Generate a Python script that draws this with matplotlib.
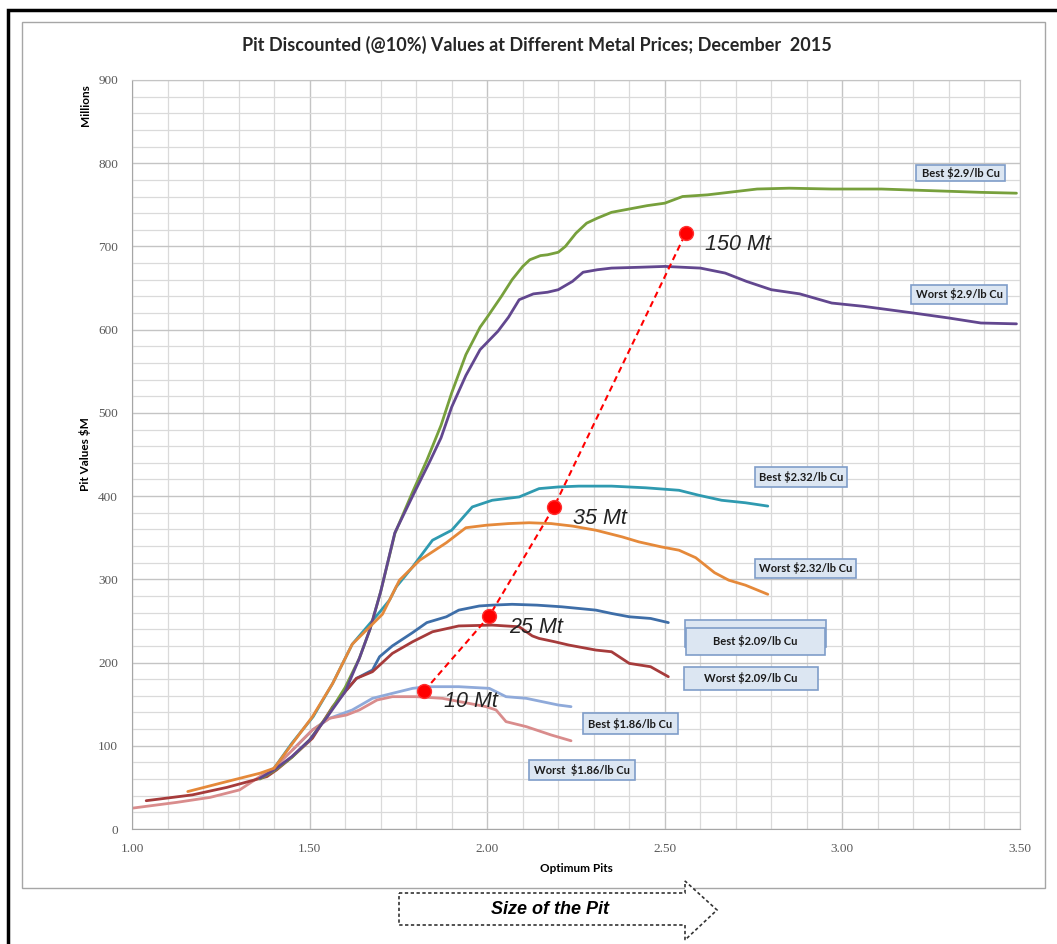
import matplotlib
matplotlib.use("Agg")
import matplotlib.pyplot as plt
from matplotlib.patches import Rectangle, Polygon
from matplotlib.ticker import MultipleLocator

# --- data (x = optimum pit, y = pit value $M) ---
best_290_x = [1.36, 1.40, 1.45, 1.50, 1.55, 1.60, 1.64, 1.67, 1.70, 1.74, 1.79, 1.83, 1.87,
              1.90, 1.94, 1.98, 2.00, 2.04, 2.07, 2.10, 2.12, 2.15, 2.17, 2.20, 2.22, 2.25, 2.28, 2.31,
              2.35, 2.40, 2.45, 2.50, 2.55, 2.62, 2.70, 2.76, 2.85, 2.97, 3.11, 3.25, 3.39, 3.49]
best_290_y = [60, 70, 86, 107, 136, 170, 205, 240, 285, 355, 405, 443, 485,
              524, 570, 603, 615, 640, 660, 676, 684, 689, 690, 693, 700, 716, 728, 734,
              741, 745, 749, 752, 760, 762, 766, 769, 770, 769, 769, 767, 765, 764]

worst_290_x = [1.36, 1.40, 1.45, 1.50, 1.55, 1.60, 1.64, 1.67, 1.70, 1.74, 1.79, 1.84,
               1.87, 1.90, 1.94, 1.98, 2.03, 2.06, 2.09, 2.13, 2.17, 2.20, 2.24, 2.27, 2.31, 2.35, 2.43,
               2.50, 2.60, 2.67, 2.73, 2.80, 2.88, 2.97, 3.06, 3.20, 3.30, 3.39, 3.49]
worst_290_y = [61, 71, 87, 107, 135, 165, 205, 240, 285, 356, 400, 443,
               470, 507, 545, 576, 598, 615, 636, 643, 645, 648, 658, 669, 672, 674, 675,
               676, 674, 668, 658, 648, 643, 632, 628, 620, 614, 608, 607]

best_232_x = [1.40, 1.45, 1.51, 1.565, 1.62, 1.66, 1.70, 1.725, 1.744, 1.79, 1.846,
              1.90, 1.958, 2.014, 2.09, 2.146, 2.20, 2.258, 2.35, 2.446, 2.54, 2.596, 2.66, 2.727, 2.79]
best_232_y = [73, 103, 135, 175, 222, 242, 262, 275, 291, 315, 347,
              359, 387, 395, 399, 409, 411, 412, 412, 410, 407, 401, 395, 392, 388]

worst_232_x = [1.157, 1.267, 1.36, 1.40, 1.452, 1.508, 1.565, 1.62, 1.66, 1.705, 1.753, 1.81, 1.885,
               1.94, 1.997, 2.06, 2.118, 2.18, 2.24, 2.306, 2.38, 2.427, 2.49, 2.54, 2.587, 2.64,
               2.68, 2.727, 2.79]
worst_232_y = [45, 57, 67, 73, 103, 135, 175, 222, 239, 258, 299, 323, 344,
               362, 365, 367, 368, 367, 364, 359, 351, 345, 339, 335, 326, 308,
               299, 293, 282]

best_209_x = [1.604, 1.632, 1.677, 1.697, 1.733,
              1.79, 1.83, 1.885, 1.92, 1.978, 2.014, 2.07, 2.14, 2.21, 2.306, 2.35, 2.40, 2.46, 2.51]
best_209_y = [167, 181, 191, 207, 220,
              236, 248, 255, 263, 268, 269, 270, 269, 267, 263, 259, 255, 253, 248]

worst_209_x = [1.04, 1.17, 1.267, 1.38, 1.407, 1.452, 1.508, 1.565, 1.604, 1.632, 1.677, 1.733, 1.79,
               1.846, 1.92, 2.014, 2.09, 2.127, 2.146, 2.19, 2.23, 2.306, 2.35, 2.40, 2.46, 2.51]
worst_209_y = [34, 41, 50, 63, 71, 87, 109, 147, 167, 181, 189, 211, 225,
               237, 244, 245, 243, 232, 229, 225, 221, 215, 213, 199, 195, 183]

best_186_x = [1.452, 1.508, 1.556, 1.62, 1.677, 1.733, 1.79,
              1.83, 1.92, 2.006, 2.053, 2.11, 2.20, 2.236]
best_186_y = [95, 119, 133, 143, 157, 163, 169,
              171, 171, 169, 159, 157, 149, 147]

worst_186_x = [1.00, 1.126, 1.22, 1.303, 1.36, 1.40, 1.452, 1.508, 1.556, 1.604, 1.64, 1.69, 1.733,
               1.80, 1.874, 1.997, 2.025, 2.053, 2.11, 2.18, 2.236]
worst_186_y = [25, 32, 38, 47, 63, 73, 95, 119, 133, 137, 143, 155, 159,
               159, 157, 147, 143, 129, 123, 113, 106]

size_x = [1.823, 2.006, 2.188, 2.559]
size_y = [166, 256, 387, 716]
size_labels = ["10 Mt", "25 Mt", "35 Mt", "150 Mt"]

series = [
    (best_186_x, best_186_y, "#8FAADA"),
    (worst_186_x, worst_186_y, "#D98C8C"),
    (best_209_x, best_209_y, "#3E6EA8"),
    (worst_209_x, worst_209_y, "#A63B3B"),
    (best_232_x, best_232_y, "#2F9AB0"),
    (best_290_x, best_290_y, "#77A03C"),
    (worst_290_x, worst_290_y, "#62478F"),
    (worst_232_x, worst_232_y, "#E5893A"),
]

# label boxes: text, (x0, x1, y0, y1) in data units
boxes = [
    ("Best $2.9/lb Cu", (3.208, 3.458, 779, 798)),
    ("Worst $2.9/lb Cu", (3.194, 3.463, 631, 654)),
    ("Best $2.32/lb Cu", (2.753, 3.014, 411, 435)),
    ("Worst $2.32/lb Cu", (2.753, 3.039, 302, 325)),
    ("Best $2.09/lb Cu", (2.559, 2.952, 209, 242)),
    ("Worst $2.09/lb Cu", (2.553, 2.930, 167, 195)),
    ("Best $1.86/lb Cu", (2.270, 2.537, 114, 139)),
    ("Worst  $1.86/lb Cu", (2.118, 2.416, 59, 83)),
]

W, H = 1057, 944
fig = plt.figure(figsize=(W / 100, H / 100), dpi=100)


def fx(px):
    return px / W


def fy(py):
    return 1 - py / H


# outer frames
fig.add_artist(Rectangle((fx(8), fy(1000)), fx(1100), fy(10) - fy(1000), fill=False,
                         edgecolor="black", lw=2.5, transform=fig.transFigure))
fig.add_artist(Rectangle((fx(22), fy(888)), fx(1045) - fx(22), fy(22) - fy(888), fill=False,
                         edgecolor="#A6A6A6", lw=1, transform=fig.transFigure))

ax = fig.add_axes([fx(132), fy(829), fx(1020) - fx(132), fy(80) - fy(829)])
ax.set_xlim(1.0, 3.5)
ax.set_ylim(0, 900)
ax.xaxis.set_major_locator(MultipleLocator(0.5))
ax.xaxis.set_minor_locator(MultipleLocator(0.1))
ax.yaxis.set_major_locator(MultipleLocator(100))
ax.yaxis.set_minor_locator(MultipleLocator(20))
ax.grid(which="major", color="#C4C4C4", lw=1.0)
ax.grid(which="minor", color="#DADADA", lw=0.9)
ax.set_axisbelow(True)
for s in ax.spines.values():
    s.set_color("#C4C4C4")
ax.spines["left"].set_color("#A6A6A6")
ax.spines["bottom"].set_color("#A6A6A6")
ax.tick_params(which="both", length=0, pad=10, labelsize=9.5, labelcolor="#595959")
ax.set_xticks([1.0, 1.5, 2.0, 2.5, 3.0, 3.5])
ax.set_xticklabels([f"{v:.2f}" for v in [1.0, 1.5, 2.0, 2.5, 3.0, 3.5]], family="Liberation Serif")
ax.set_yticks(range(0, 1000, 100))
ax.set_yticklabels([str(v) for v in range(0, 1000, 100)], family="Liberation Serif")

for xs, ys, c in series:
    ax.plot(xs, ys, color=c, lw=2.0, solid_capstyle="round", solid_joinstyle="round")

ax.plot(size_x, size_y, "--", color="#FF0000", lw=1.5, dashes=(3, 2))
ax.plot(size_x, size_y, "o", color="#FF0000", ms=10, mec="#FF3030")
for x, y, t in zip(size_x, size_y, size_labels):
    ax.annotate(t, (x, y), xytext=(14, -8), textcoords="offset points", ha="left", va="center",
                fontsize=15.5, style="italic", family="Liberation Sans", color="#222222")

for t, (x0, x1, y0, y1) in boxes:
    if t.startswith("Best $2.09"):
        ax.add_patch(Rectangle((2.556, 219), 2.955 - 2.556, 251 - 219, facecolor="#DCE6F2",
                               edgecolor="#7F9DC9", lw=1.2, zorder=5))
    ax.add_patch(Rectangle((x0, y0), x1 - x0, y1 - y0, facecolor="#DCE6F2",
                           edgecolor="#7F9DC9", lw=1.2, zorder=6))
    ax.text((x0 + x1) / 2, (y0 + y1) / 2, t, ha="center", va="center", fontsize=8,
            fontweight="bold", family="Lato", color="#1A1A1A", zorder=7)

ax.set_xlabel("Optimum Pits", fontsize=8.5, fontweight="bold", family="Lato", labelpad=6)
ax.set_ylabel("Pit Values $M", fontsize=8.5, fontweight="bold", family="Lato", labelpad=5)
fig.text(fx(85), fy(105), "Millions", rotation=90, ha="center", va="center",
         fontsize=8.5, fontweight="bold", family="Lato")

fig.text(fx(537), fy(45), "Pit Discounted (@10%) Values at Different Metal Prices; December  2015",
         ha="center", va="center", fontsize=13, fontweight="bold", family="Lato", color="#262626")

# "Size of the Pit" dashed arrow
arrow = Polygon([(fx(399), fy(893)), (fx(685), fy(893)), (fx(685), fy(881)), (fx(717), fy(910)),
                 (fx(685), fy(940)), (fx(685), fy(925)), (fx(399), fy(925))], closed=True,
                facecolor="white", edgecolor="#333333", lw=1.2, ls=(0, (2, 1.5)),
                transform=fig.transFigure)
fig.add_artist(arrow)
fig.text(fx(550), fy(910), "Size of the Pit", ha="center", va="center", fontsize=13,
         fontweight="bold", style="italic", family="Liberation Sans")

fig.savefig("out.png", dpi=100)
